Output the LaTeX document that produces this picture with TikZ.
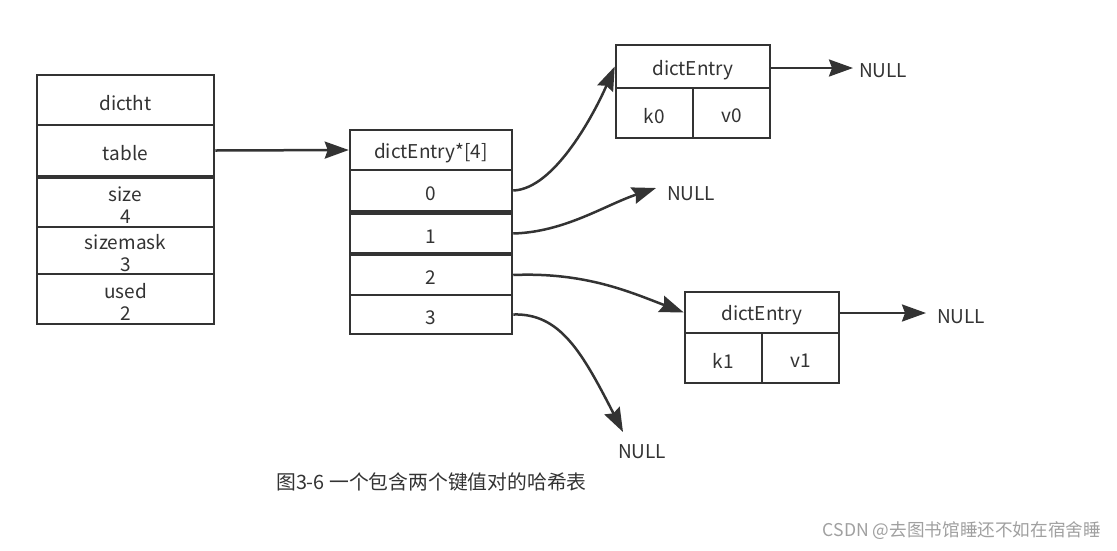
\documentclass[tikz,border=0pt]{standalone}
\usepackage{fontspec}
\setmainfont{Noto Sans CJK SC}
\usetikzlibrary{arrows.meta}
\definecolor{ink}{HTML}{333333}
\definecolor{mark}{HTML}{A0A0A0}
\begin{document}
\begin{tikzpicture}[x=1pt,y=-1pt,
  cell/.style={draw=ink,line width=2.5pt,inner sep=0pt,text=ink,font=\fontsize{19}{22}\selectfont,align=center,yshift=0pt},
  txt/.style={text=ink,inner sep=0pt,font=\fontsize{19}{22}\selectfont,align=center,yshift=-3pt},
  lbl/.style={text=ink,inner sep=0pt,font=\fontsize{19}{22}\selectfont},
  link/.style={draw=ink,line width=2.5pt,-{Stealth[length=24pt,width=17pt,inset=3pt]}}]
\useasboundingbox[fill=white] (0,0) rectangle (1117,550);
% dictht
\node[cell,minimum width=177,minimum height=50,label={[txt]center:dictht}] (dictht) at (125.5,100) {};
\node[cell,minimum width=177,minimum height=51,label={[txt]center:table}] (table) at (125.5,150.5) {};
\node[cell,minimum width=177,minimum height=49,label={[txt]center:{size\\4}}] (size) at (125.5,202.5) {};
\node[cell,minimum width=177,minimum height=47,label={[txt]center:{sizemask\\3}}] (sizemask) at (125.5,250.5) {};
\node[cell,minimum width=177,minimum height=50,label={[txt]center:{used\\2}}] (used) at (125.5,299) {};
% array
\node[cell,minimum width=162,minimum height=40,label={[txt]center:{dictEntry*[4]}}] (arr) at (431,150) {};
\node[cell,minimum width=162,minimum height=41,label={[txt]center:0}] (r0) at (431,190.5) {};
\node[cell,minimum width=162,minimum height=40,label={[txt]center:1}] (r1) at (431,233.5) {};
\node[cell,minimum width=162,minimum height=40,label={[txt]center:2}] (r2) at (431,275) {};
\node[cell,minimum width=162,minimum height=39,label={[txt]center:3}] (r3) at (431,314.5) {};
% entry 0
\node[cell,minimum width=154,minimum height=43,label={[txt,yshift=-1pt]center:dictEntry}] (e0) at (693,66.5) {};
\node[cell,minimum width=77,minimum height=50,label={[txt]center:k0}] (k0) at (654.5,113) {};
\node[cell,minimum width=77,minimum height=50,label={[txt]center:v0}] (v0) at (731.5,113) {};
% entry 1
\node[cell,minimum width=154,minimum height=41,label={[txt]center:dictEntry}] (e1) at (762,312.5) {};
\node[cell,minimum width=77,minimum height=50,label={[txt]center:k1}] (k1) at (723.5,358) {};
\node[cell,minimum width=77,minimum height=50,label={[txt]center:v1}] (v1) at (800.5,358) {};
% NULLs
\node[lbl,anchor=west] (n0) at (859,71) {NULL};
\node[lbl,anchor=west] (n1) at (667,194) {NULL};
\node[lbl,anchor=west] (n2) at (937,317) {NULL};
\node[lbl,anchor=west] (n3) at (618,452) {NULL};
\coordinate (t1) at (656,188);
\coordinate (t3) at (623,432);
\coordinate (h0) at (853,68);
\coordinate (h2) at (926,313);
% connectors
\draw[link] (table.east) -- (arr.west);
\draw[link] (r0.east) .. controls (555,189) and (595,112) .. (e0.west);
\draw[link] (r1.east) .. controls (565,232) and (605,205) .. (t1);
\draw[link] (r2.east) .. controls (585,272) and (630,292) .. (e1.west);
\draw[link] (r3.east) .. controls (560,313) and (582,352) .. (t3);
\draw[link] (e0.east |- h0) -- (h0);
\draw[link] (e1.east |- h2) -- (h2);
% caption and watermark
\node[anchor=west,text=ink,inner sep=0pt,font=\fontsize{19.8}{22}\selectfont] (cap) at (276,482) {图3-6 一个包含两个键值对的哈希表};
\node[anchor=east,text=mark,inner sep=0pt,font=\fontsize{17.6}{20}\selectfont] (wm) at (1101,531) {CSDN @去图书馆睡还不如在宿舍睡};
\end{tikzpicture}
\end{document}
